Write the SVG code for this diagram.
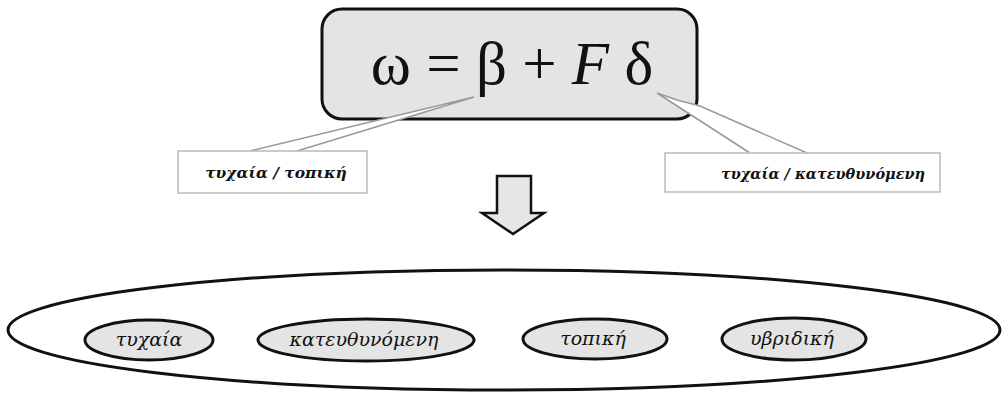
<svg xmlns="http://www.w3.org/2000/svg" width="1008" height="410" viewBox="0 0 1008 410">
<style>
.node{fill:#e4e4e4;stroke:#111;stroke-width:3}
.box{fill:#fff;stroke:#bbb;stroke-width:1.5}
.tail{fill:#fff;stroke:#999;stroke-width:1.5}
.lbl{font-family:"DejaVu Serif",serif;font-style:italic;font-size:19px;fill:#111;text-anchor:middle}
.blbl{font-family:"DejaVu Serif",serif;font-style:italic;font-weight:bold;font-size:15.5px;fill:#111;text-anchor:middle}
</style>
<rect width="1008" height="410" fill="#fff"/>
<g id="formula">
<rect class="node" x="322" y="9" width="375" height="110" rx="20"/>
<text x="512" y="84" font-family="Liberation Serif,serif" font-size="61" text-anchor="middle" fill="#111">ω = β + <tspan font-style="italic">F</tspan> δ</text>
</g>
<g id="connectors">
<polyline class="tail" points="250,151 474,97 297,151"/>
<polyline class="tail" points="750,153 657,93 677,100 700,106 807,153"/>
<path d="M497,176 L531,176 L531,213 L544,213 L513,234 L482,213 L497,213 Z" fill="#e6e6e6" stroke="#111" stroke-width="2.5" stroke-linejoin="miter"/>
</g>
<g id="label-left">
<rect class="box" x="178" y="151" width="189" height="42"/>
<text class="blbl" x="276" y="178">τυχαία / τοπική</text>
</g>
<g id="label-right">
<rect class="box" x="665" y="153" width="275" height="39"/>
<text class="blbl" x="823" y="179" style="font-size:14.5px">τυχαία / κατευθυνόμενη</text>
</g>
<g id="set">
<ellipse cx="504" cy="330" rx="496" ry="60" fill="#fff" stroke="#111" stroke-width="3"/>
</g>
<g id="n1"><ellipse class="node" cx="149" cy="340" rx="64" ry="20"/><text class="lbl" x="149" y="346">τυχαία</text></g>
<g id="n2"><ellipse class="node" cx="366" cy="340" rx="108" ry="21"/><text class="lbl" x="364" y="346">κατευθυνόμενη</text></g>
<g id="n3"><ellipse class="node" cx="595" cy="339" rx="72" ry="20"/><text class="lbl" x="593" y="345">τοπική</text></g>
<g id="n4"><ellipse class="node" cx="794" cy="339" rx="72" ry="21"/><text class="lbl" x="792" y="345">υβριδική</text></g>
</svg>
